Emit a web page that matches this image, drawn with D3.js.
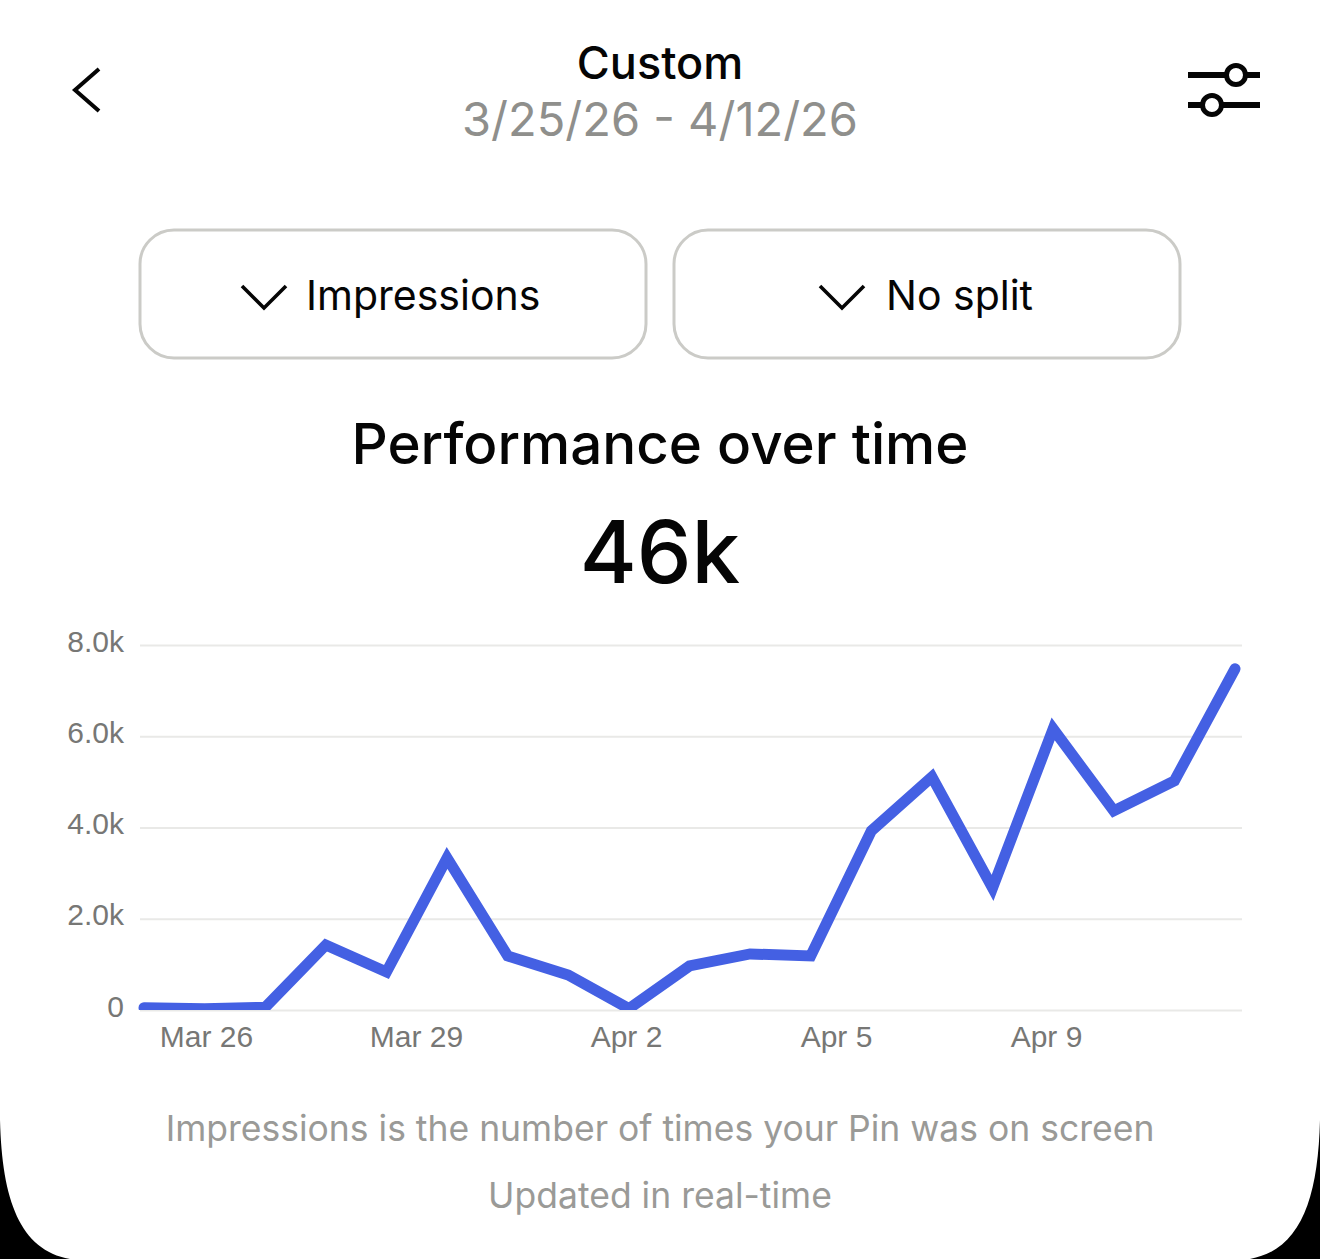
<!DOCTYPE html>
<html>
<head>
<meta charset="utf-8">
<script src="https://cdn.jsdelivr.net/npm/d3@7/dist/d3.min.js"></script>
<style>
html, body { margin: 0; padding: 0; background: #fff; }
svg { display: block; }
</style>
</head>
<body>
<svg id="chart" width="1320" height="1259"></svg>
<script>
// Daily impressions, 25 March to 12 April
const days = ["Mar 25","Mar 26","Mar 27","Mar 28","Mar 29","Mar 30","Mar 31","Apr 1","Apr 2","Apr 3","Apr 4","Apr 5","Apr 6","Apr 7","Apr 8","Apr 9","Apr 10","Apr 11","Apr 12"];
const impressions = [50, 30, 60, 1425, 833, 3333, 1184, 768, 30, 965, 1228, 1184, 3925, 5110, 2675, 6162, 4364, 5022, 7478];
const yTicks = [0, 2000, 4000, 6000, 8000];
const xLabels = ["Mar 26", "Mar 29", "Apr 2", "Apr 5", "Apr 9"];

const svg = d3.select("#chart");
const UI = "Inter, 'Noto Sans', sans-serif";
const AXIS = "'Liberation Sans', Arial, sans-serif";
const INK = "#050505";
const MUTED = "#8f8f8c";

const addText = (x, y, s, size, fill, opts = {}) =>
  svg.append("text").attr("x", x).attr("y", y).text(s)
    .attr("font-family", opts.family || UI)
    .attr("font-size", size)
    .attr("font-weight", opts.weight || 400)
    .attr("fill", fill)
    .attr("text-anchor", opts.anchor || "middle");

// Header
addText(660, 79, "Custom", 45, INK, { weight: 500 });
addText(660, 136, "3/25/26 - 4/12/26", 47, MUTED);

svg.append("path").attr("d", "M99 69 L75 90 L99 111")
  .attr("fill", "none").attr("stroke", INK).attr("stroke-width", 4);

// Filter icon
const sliders = [{ y: 75, knob: 1236 }, { y: 105, knob: 1212 }];
sliders.forEach(s => {
  svg.append("line").attr("x1", 1188).attr("x2", 1260).attr("y1", s.y).attr("y2", s.y)
    .attr("stroke", INK).attr("stroke-width", 6);
  svg.append("circle").attr("cx", s.knob).attr("cy", s.y).attr("r", 9.5)
    .attr("fill", "#fff").attr("stroke", INK).attr("stroke-width", 5);
});

// Dropdown buttons
const buttons = [
  { x: 140, label: "Impressions", chevron: 264, text: 306 },
  { x: 674, label: "No split", chevron: 842, text: 886 }
];
buttons.forEach(b => {
  svg.append("rect").attr("x", b.x).attr("y", 230).attr("width", 506).attr("height", 128).attr("rx", 34)
    .attr("fill", "#fff").attr("stroke", "#cbcbc7").attr("stroke-width", 3);
  svg.append("path").attr("d", `M${b.chevron - 22} 286 L${b.chevron} 308 L${b.chevron + 22} 286`)
    .attr("fill", "none").attr("stroke", INK).attr("stroke-width", 3.6);
  addText(b.text, 310, b.label, 41, INK, { anchor: "start" });
});

// Headline figures
addText(660, 464, "Performance over time", 56.5, INK, { weight: 500 });
addText(660, 583, "46k", 87, INK, { weight: 500 });

// Chart scales
const x = d3.scalePoint().domain(days).range([144, 1235]);
const y = d3.scaleLinear().domain([0, 8000]).range([1010, 645]);
const labelX = d3.scalePoint().domain(xLabels).range([206, 1046]);

// Gridlines and value labels
const yAxis = d3.axisLeft(y).tickValues(yTicks).tickSize(-1102).tickPadding(16)
  .tickFormat(d => d === 0 ? "0" : (d / 1000).toFixed(1) + "k");
const yG = svg.append("g").attr("transform", "translate(140,0)").call(yAxis);
yG.select(".domain").remove();
yG.selectAll("line").attr("stroke", "#e9e9e7").attr("stroke-width", 2);
yG.selectAll("text").attr("font-family", AXIS).attr("font-size", 30).attr("fill", "#777775")
  .attr("dy", "0.2em");

// Date labels
const xAxis = d3.axisBottom(labelX).tickSize(0).tickPadding(14);
const xG = svg.append("g").attr("transform", "translate(0,1012)").call(xAxis);
xG.select(".domain").remove();
xG.selectAll("text").attr("font-family", AXIS).attr("font-size", 30).attr("fill", "#777775");

// Impressions line, cut off at the baseline
svg.append("clipPath").attr("id", "plot-clip").append("rect")
  .attr("x", 130).attr("y", 640).attr("width", 1120).attr("height", 370);
svg.append("path").datum(impressions)
  .attr("clip-path", "url(#plot-clip)")
  .attr("fill", "none").attr("stroke", "#4460e3").attr("stroke-width", 11)
  .attr("stroke-linejoin", "miter").attr("stroke-linecap", "round")
  .attr("d", d3.line().x((d, i) => x(days[i])).y(d => y(d)));

// Footnotes
addText(660, 1141, "Impressions is the number of times your Pin was on screen", 35.5, "#9a9a97");
addText(660, 1208, "Updated in real-time", 35.5, "#9a9a97");

// Rounded screen corners
svg.append("path").attr("fill", "#000")
  .attr("d", "M0 1120 C2 1200 20 1250 70 1259 L0 1259 Z");
svg.append("path").attr("fill", "#000")
  .attr("d", "M1320 1120 C1318 1200 1300 1250 1250 1259 L1320 1259 Z");
</script>
</body>
</html>
